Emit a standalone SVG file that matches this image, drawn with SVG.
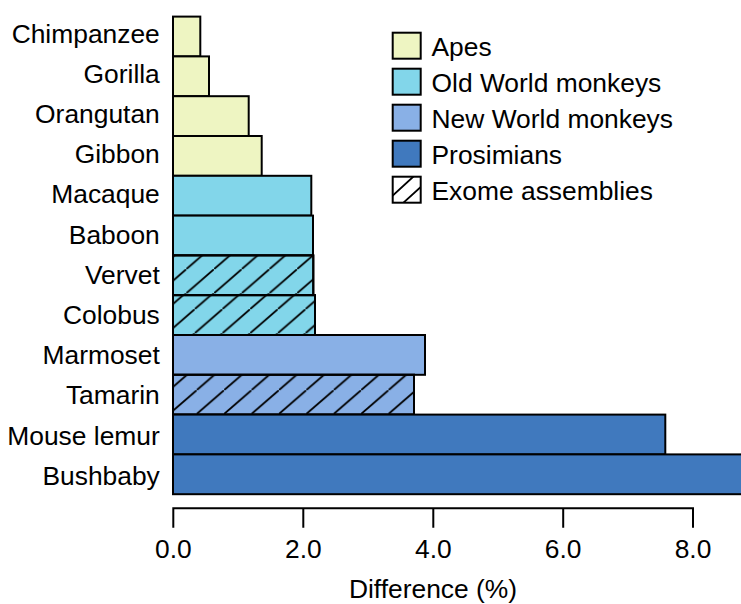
<svg xmlns="http://www.w3.org/2000/svg" width="741" height="604" viewBox="0 0 741 604">
<style>
text{font-family:"Liberation Sans",Arial,Helvetica,sans-serif;font-size:26.4px;fill:#000}
.lab{text-anchor:end}
.tk{text-anchor:middle}
.bar{stroke:#000;stroke-width:2}
.ape{fill:#EEF5C2}
.owm{fill:#82D6EA}
.nwm{fill:#89B0E6}
.pro{fill:#4079BE}
.hat{stroke:#000;stroke-width:1.8;fill:none}
.ax{stroke:#000;stroke-width:2;fill:none}
</style>
<defs>
<pattern id="hV" patternUnits="userSpaceOnUse" width="27.7" height="24.1" patternTransform="translate(158.6,293.3)">
<path class="hat" d="M-2,25.84 L29.7,-1.74"/>
</pattern>
<pattern id="hC" patternUnits="userSpaceOnUse" width="27.7" height="24.1" patternTransform="translate(194.7,333.3)">
<path class="hat" d="M-2,25.84 L29.7,-1.74"/>
</pattern>
<pattern id="hT" patternUnits="userSpaceOnUse" width="27.4" height="23.8" patternTransform="translate(196.7,414)">
<path class="hat" d="M-2,25.54 L29.4,-1.74"/>
</pattern>
<clipPath id="lgclip"><rect x="392.7" y="176.7" width="28" height="26"/></clipPath>
</defs>

<g id="bars">
<g id="chimpanzee"><rect class="bar ape" x="173" y="16.6" width="27.3" height="39.8"/><text class="lab" x="159.8" y="42.5">Chimpanzee</text></g>
<g id="gorilla"><rect class="bar ape" x="173" y="56.4" width="36" height="39.8"/><text class="lab" x="159.8" y="82.7">Gorilla</text></g>
<g id="orangutan"><rect class="bar ape" x="173" y="96.2" width="75.7" height="39.8"/><text class="lab" x="159.8" y="122.9">Orangutan</text></g>
<g id="gibbon"><rect class="bar ape" x="173" y="136" width="88.7" height="39.8"/><text class="lab" x="159.8" y="163.1">Gibbon</text></g>
<g id="macaque"><rect class="bar owm" x="173" y="175.8" width="138.3" height="39.8"/><text class="lab" x="159.8" y="203.3">Macaque</text></g>
<g id="baboon"><rect class="bar owm" x="173" y="215.6" width="140" height="39.8"/><text class="lab" x="159.8" y="243.5">Baboon</text></g>
<g id="vervet"><rect class="bar owm" x="173" y="255.4" width="140.3" height="39.8"/><rect x="173" y="255.4" width="140.3" height="39.8" fill="url(#hV)"/><rect class="bar" fill="none" x="173" y="255.4" width="140.3" height="39.8"/><text class="lab" x="159.8" y="283.7">Vervet</text></g>
<g id="colobus"><rect class="bar owm" x="173" y="295.2" width="142" height="39.8"/><rect x="173" y="295.2" width="142" height="39.8" fill="url(#hC)"/><rect class="bar" fill="none" x="173" y="295.2" width="142" height="39.8"/><text class="lab" x="159.8" y="323.9">Colobus</text></g>
<g id="marmoset"><rect class="bar nwm" x="173" y="335" width="252" height="39.8"/><text class="lab" x="159.8" y="364.1">Marmoset</text></g>
<g id="tamarin"><rect class="bar nwm" x="173" y="374.8" width="241" height="39.8"/><rect x="173" y="374.8" width="241" height="39.8" fill="url(#hT)"/><rect class="bar" fill="none" x="173" y="374.8" width="241" height="39.8"/><text class="lab" x="159.8" y="404.3">Tamarin</text></g>
<g id="mouse-lemur"><rect class="bar pro" x="173" y="414.6" width="492.3" height="39.8"/><text class="lab" x="159.8" y="444.5">Mouse lemur</text></g>
<g id="bushbaby"><rect class="bar pro" x="173" y="454.4" width="600" height="39.8"/><text class="lab" x="159.8" y="484.7">Bushbaby</text></g>
</g>

<g id="axis">
<path class="ax" d="M173.3,527.7 V508.3 H693 V527.7 M303.3,508.3 V527.7 M433.3,508.3 V527.7 M563.2,508.3 V527.7"/>
<text class="tk" x="173.3" y="557.7">0.0</text>
<text class="tk" x="303.3" y="557.7">2.0</text>
<text class="tk" x="433.3" y="557.7">4.0</text>
<text class="tk" x="563.2" y="557.7">6.0</text>
<text class="tk" x="693" y="557.7">8.0</text>
<text class="tk" x="433" y="598">Difference (%)</text>
</g>

<g id="legend">
<g id="lg-apes"><rect class="bar ape" x="392.7" y="32.7" width="28" height="26"/><text x="431.5" y="56">Apes</text></g>
<g id="lg-owm"><rect class="bar owm" x="392.7" y="68.7" width="28" height="26"/><text x="431.5" y="92">Old World monkeys</text></g>
<g id="lg-nwm"><rect class="bar nwm" x="392.7" y="104.7" width="28" height="26"/><text x="431.5" y="128">New World monkeys</text></g>
<g id="lg-pro"><rect class="bar pro" x="392.7" y="140.7" width="28" height="26"/><text x="431.5" y="164">Prosimians</text></g>
<g id="lg-exome"><rect x="392.7" y="176.7" width="28" height="26" fill="#fff"/><g clip-path="url(#lgclip)"><path class="hat" d="M390,198 L414,176 M402,204 L424,184"/></g><rect class="bar" fill="none" x="392.7" y="176.7" width="28" height="26"/><text x="431.5" y="200">Exome assemblies</text></g>
</g>
</svg>
